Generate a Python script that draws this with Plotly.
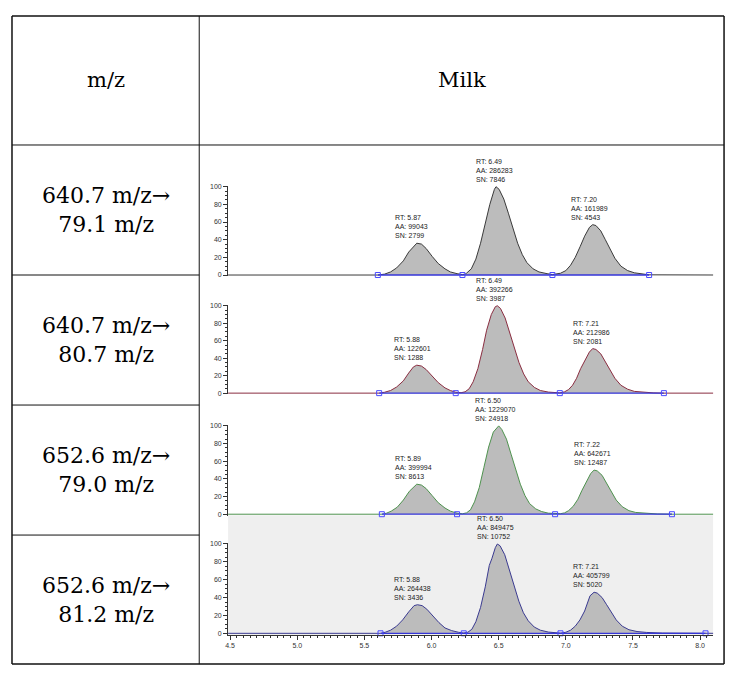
import plotly.graph_objects as go

# page offset of the plot inside the browser window (body margin)
OFF = 8
W, H = 735 - OFF, 678 - OFF

# ---------------- data ----------------
row_labels = ["640.7 m/z→<br>79.1 m/z", "640.7 m/z→<br>80.7 m/z",
              "652.6 m/z→<br>79.0 m/z", "652.6 m/z→<br>81.2 m/z"]
header_left = "m/z"
header_right = "Milk"

x1 = [4.48, 5.60, 5.65, 5.695, 5.74, 5.79, 5.83, 5.867, 5.89, 5.925, 5.96, 6.005, 6.05, 6.10, 6.14, 6.19, 6.23,
      6.25, 6.26, 6.296, 6.33, 6.365, 6.40, 6.434, 6.468, 6.48, 6.503, 6.538, 6.572, 6.607, 6.641, 6.676, 6.71,
      6.756, 6.80, 6.86, 6.90, 6.96, 7.00, 7.035, 7.07, 7.106, 7.14, 7.176, 7.20, 7.224, 7.26, 7.294, 7.33,
      7.365, 7.41, 7.46, 7.51, 7.58, 7.62, 8.12]
y1 = [0, 0, 1, 3.5, 8, 16, 26, 33, 36, 35, 30, 21, 13, 7, 3.5, 1.5, 0.5,
      1, 2, 7, 18, 36, 58, 80, 97, 100, 97, 86, 70, 52, 36, 23, 14,
      7, 3.5, 1.5, 0.5, 2, 5, 11, 20, 32, 44, 54, 57, 56, 50, 40, 29,
      19, 10, 5, 2.5, 1, 0.2, 0]

x2 = [4.48, 5.61, 5.65, 5.695, 5.74, 5.79, 5.83, 5.865, 5.89, 5.925, 5.96, 6.005, 6.05, 6.10, 6.14, 6.18,
      6.22, 6.25, 6.28, 6.31, 6.345, 6.38, 6.41, 6.445, 6.475, 6.49, 6.513, 6.548, 6.582, 6.617, 6.651, 6.686,
      6.72, 6.766, 6.81, 6.87, 6.955, 6.99, 7.02, 7.05, 7.08, 7.11, 7.145, 7.175, 7.20, 7.224, 7.26, 7.294,
      7.33, 7.365, 7.41, 7.46, 7.51, 7.58, 7.65, 7.73, 8.12]
y2 = [0, 0, 1, 3, 7, 14, 23, 30, 32, 31, 27, 19, 12, 6, 3, 1,
      0.5, 1.5, 5, 13, 28, 50, 72, 90, 99, 100, 97, 86, 69, 51, 35, 22,
      13, 6.5, 3, 1.2, 0.3, 1.5, 4, 9, 17, 28, 39, 47, 51, 50, 45, 36,
      26, 17, 9, 4.5, 2, 1, 0.3, 0, 0]

x3 = [4.48, 5.63, 5.665, 5.70, 5.745, 5.79, 5.835, 5.865, 5.89, 5.925, 5.96, 6.005, 6.05, 6.10, 6.14, 6.19,
      6.23, 6.26, 6.29, 6.32, 6.355, 6.39, 6.425, 6.46, 6.485, 6.50, 6.523, 6.558, 6.592, 6.627, 6.661, 6.696,
      6.73, 6.776, 6.82, 6.87, 6.92, 6.96, 6.99, 7.02, 7.055, 7.09, 7.12, 7.155, 7.185, 7.21, 7.234, 7.27,
      7.304, 7.34, 7.375, 7.42, 7.47, 7.52, 7.59, 7.68, 7.79, 8.12]
y3 = [0, 0, 1.2, 3.5, 8, 16, 26, 31, 34, 33, 29, 21, 13, 7, 3.5, 1.2,
      0.5, 1.5, 5, 14, 30, 53, 76, 93, 98, 100, 96, 85, 68, 50, 34, 21,
      12, 6, 3, 1.2, 0.4, 0.6, 1.5, 4, 9, 17, 27, 38, 46, 50, 49, 44,
      35, 25, 16, 8.5, 4, 2, 1, 0.3, 0, 0]

x4 = [4.48, 5.62, 5.655, 5.695, 5.74, 5.785, 5.83, 5.87, 5.895, 5.93, 5.965, 6.01, 6.055, 6.10, 6.15, 6.20, 6.24,
      6.27, 6.30, 6.33, 6.365, 6.40, 6.43, 6.45, 6.475, 6.49, 6.51, 6.545, 6.58, 6.614, 6.65, 6.684, 6.72,
      6.765, 6.81, 6.87, 6.92, 6.96, 7.00, 7.035, 7.07, 7.105, 7.14, 7.165, 7.18, 7.195, 7.21, 7.234, 7.27,
      7.304, 7.34, 7.375, 7.42, 7.47, 7.53, 7.60, 7.72, 7.85, 8.04, 8.12]
y4 = [0, 0, 1.2, 3.5, 8, 15, 24, 31, 32, 31, 27, 19, 12, 6, 3, 1.2, 0.3,
      1.2, 4.5, 13, 29, 52, 76, 84, 96, 100, 98, 88, 71, 53, 36, 23, 14,
      7, 3.5, 1.4, 0.5, 0.2, 1.2, 3.5, 8, 15, 25, 36, 42, 44, 46, 45, 40,
      32, 23, 15, 8, 4, 2, 1, 0.3, 0.1, 0, 0]

# integration boundary markers (baseline squares)
b1 = [5.60, 6.23, 6.90, 7.62]
b2 = [5.61, 6.18, 6.955, 7.73]
b3 = [5.63, 6.19, 6.92, 7.79]
b4 = [5.62, 6.24, 6.96, 8.04]

# peak labels: RT, AA, SN
rt1 = [5.87, 6.49, 7.20]; aa1 = [99043, 286283, 161989]; sn1 = [2799, 7846, 4543]
rt2 = [5.88, 6.49, 7.21]; aa2 = [122601, 392266, 212986]; sn2 = [1288, 3987, 2081]
rt3 = [5.89, 6.50, 7.22]; aa3 = [399994, 1229070, 642671]; sn3 = [8613, 24918, 12487]
rt4 = [5.88, 6.50, 7.21]; aa4 = [264438, 849475, 405799]; sn4 = [3436, 10752, 5020]

x_ticks = [4.5, 5.0, 5.5, 6.0, 6.5, 7.0, 7.5, 8.0]
y_ticks = [0, 20, 40, 60, 80, 100]

# ---------------- layout helpers (reference-window pixels -> paper) ----------------
def px_x(p):
    return (p - OFF) / W

def px_y(p):
    return 1 - (p - OFF) / H

panels = [
    dict(x=x1, y=y1, b=b1, rt=rt1, aa=aa1, sn=sn1, color="#3a3a3a", y0=274, y100=185),
    dict(x=x2, y=y2, b=b2, rt=rt2, aa=aa2, sn=sn2, color="#8a2d40", y0=393, y100=305),
    dict(x=x3, y=y3, b=b3, rt=rt3, aa=aa3, sn=sn3, color="#4e924e", y0=515, y100=426),
    dict(x=x4, y=y4, b=b4, rt=rt4, aa=aa4, sn=sn4, color="#3a3a90", y0=635, y100=545),
]

# horizontal mapping: 4.5 -> px 228, 8.0 -> px 700, plot from px 226 to 713
P45, P80 = 228, 700
sx = (P80 - P45) / 3.5
XL, XR = 226, 713
xr = [4.5 - (P45 - XL) / sx, 8.0 + (XR - P80) / sx]
YR = [-1.5, 101]

fig = go.Figure()
layout = dict(width=W, height=H, margin=dict(l=0, r=0, t=0, b=0),
              paper_bgcolor="white", plot_bgcolor="rgba(0,0,0,0)", showlegend=False)

tickfont = dict(family="Liberation Sans, Arial, sans-serif", size=7, color="#333")
annfont = dict(family="Liberation Sans, Arial, sans-serif", size=7, color="#222")
annotations = []
shapes = []

for i, p in enumerate(panels, start=1):
    xa = "x" if i == 1 else f"x{i}"
    ya = "y" if i == 1 else f"y{i}"
    s = (p["y0"] - p["y100"]) / 100.0
    dom_bottom = p["y0"] - YR[0] * s
    dom_top = p["y100"] - (YR[1] - 100) * s
    fig.add_trace(go.Scatter(x=p["x"], y=p["y"], mode="lines", xaxis=xa, yaxis=ya,
                             line=dict(color=p["color"], width=1), fill="tozeroy",
                             fillcolor="#bcbcbc", hoverinfo="skip"))
    fig.add_trace(go.Scatter(x=[p["b"][0], p["b"][-1]], y=[0, 0], mode="lines", xaxis=xa, yaxis=ya,
                             line=dict(color="#3535d8", width=1.3), hoverinfo="skip"))
    fig.add_trace(go.Scatter(x=p["b"], y=[0] * len(p["b"]), mode="markers", xaxis=xa, yaxis=ya,
                             marker=dict(symbol="square-open", size=5, color="#4a4aff",
                                         line=dict(width=1)), hoverinfo="skip", cliponaxis=False))
    xkey = "xaxis" if i == 1 else f"xaxis{i}"
    ykey = "yaxis" if i == 1 else f"yaxis{i}"
    last = (i == 4)
    layout[xkey] = dict(domain=[px_x(XL), px_x(XR)], range=xr, anchor=ya,
                        showgrid=False, zeroline=False, fixedrange=True,
                        showline=last, linecolor="#333", linewidth=1,
                        ticks="outside" if last else "", ticklen=4, tickcolor="#333",
                        tickvals=x_ticks if last else [],
                        ticktext=[f"{v:.1f}" for v in x_ticks] if last else [],
                        showticklabels=last, tickfont=tickfont,
                        minor=dict(dtick=0.05, tick0=4.5, ticks="outside", ticklen=2, tickcolor="#333")
                        if last else dict(ticks=""))
    layout[ykey] = dict(domain=[px_y(dom_bottom), px_y(dom_top)], range=YR, anchor=xa,
                        showgrid=False, zeroline=False, fixedrange=True,
                        showline=True, linecolor="#333", linewidth=1,
                        ticks="outside", ticklen=4, tickcolor="#333",
                        tickvals=y_ticks, tickfont=tickfont,
                        minor=dict(dtick=5, tick0=0, ticks="outside", ticklen=2, tickcolor="#333"))
    for rt, aa, sn in zip(p["rt"], p["aa"], p["sn"]):
        top = max(yy for xx, yy in zip(p["x"], p["y"]) if abs(xx - rt) <= 0.1)
        annotations.append(dict(x=rt, y=top, xref=xa, yref=ya, xanchor="center", yanchor="bottom",
                                xshift=-3, yshift=2, align="left", showarrow=False,
                                text=f"RT: {rt:.2f}<br>AA: {aa}<br>SN: {sn}", font=annfont))

# grey background of the last chromatogram
shapes.append(dict(type="rect", xref="paper", yref="paper", layer="below",
                   x0=px_x(XL), x1=px_x(XR), y0=px_y(637), y1=px_y(516),
                   fillcolor="#efefef", line=dict(width=0)))

# table grid
TL, TM, TR = 9, 197, 724
rows = [13, 143, 274, 405, 536, 666]
for k, yy in enumerate(rows):
    outer = k in (0, len(rows) - 1)
    x1e = TR if k in (0, 1, len(rows) - 1) else TM
    shapes.append(dict(type="line", xref="paper", yref="paper", x0=px_x(TL), x1=px_x(x1e),
                       y0=px_y(yy), y1=px_y(yy), line=dict(color="#111", width=1.5 if outer else 1)))
for xx, w in ((TL, 1.5), (TM, 1), (TR, 1.5)):
    shapes.append(dict(type="line", xref="paper", yref="paper", x0=px_x(xx), x1=px_x(xx),
                       y0=px_y(rows[0]), y1=px_y(rows[-1]), line=dict(color="#111", width=w)))

serif = dict(family="DejaVu Serif, Liberation Serif, serif", size=21, color="#000")
serif_rows = dict(family="DejaVu Serif, Liberation Serif, serif", size=22, color="#000")
annotations.append(dict(x=px_x((TL + TM) / 2), y=px_y((rows[0] + rows[1]) / 2), xref="paper", yref="paper",
                        text=header_left, showarrow=False, font=serif, xanchor="center", yanchor="middle"))
annotations.append(dict(x=px_x((TM + TR) / 2), y=px_y((rows[0] + rows[1]) / 2), xref="paper", yref="paper",
                        text=header_right, showarrow=False, font=serif, xanchor="center", yanchor="middle"))
for k, lab in enumerate(row_labels):
    yc = (rows[k + 1] + rows[k + 2]) / 2
    annotations.append(dict(x=px_x((TL + TM) / 2), y=px_y(yc), xref="paper", yref="paper",
                            text=lab, showarrow=False, font=serif_rows, xanchor="center", yanchor="middle",
                            align="center"))

layout["annotations"] = annotations
layout["shapes"] = shapes
fig.update_layout(**layout)
fig.write_html("out.html")
